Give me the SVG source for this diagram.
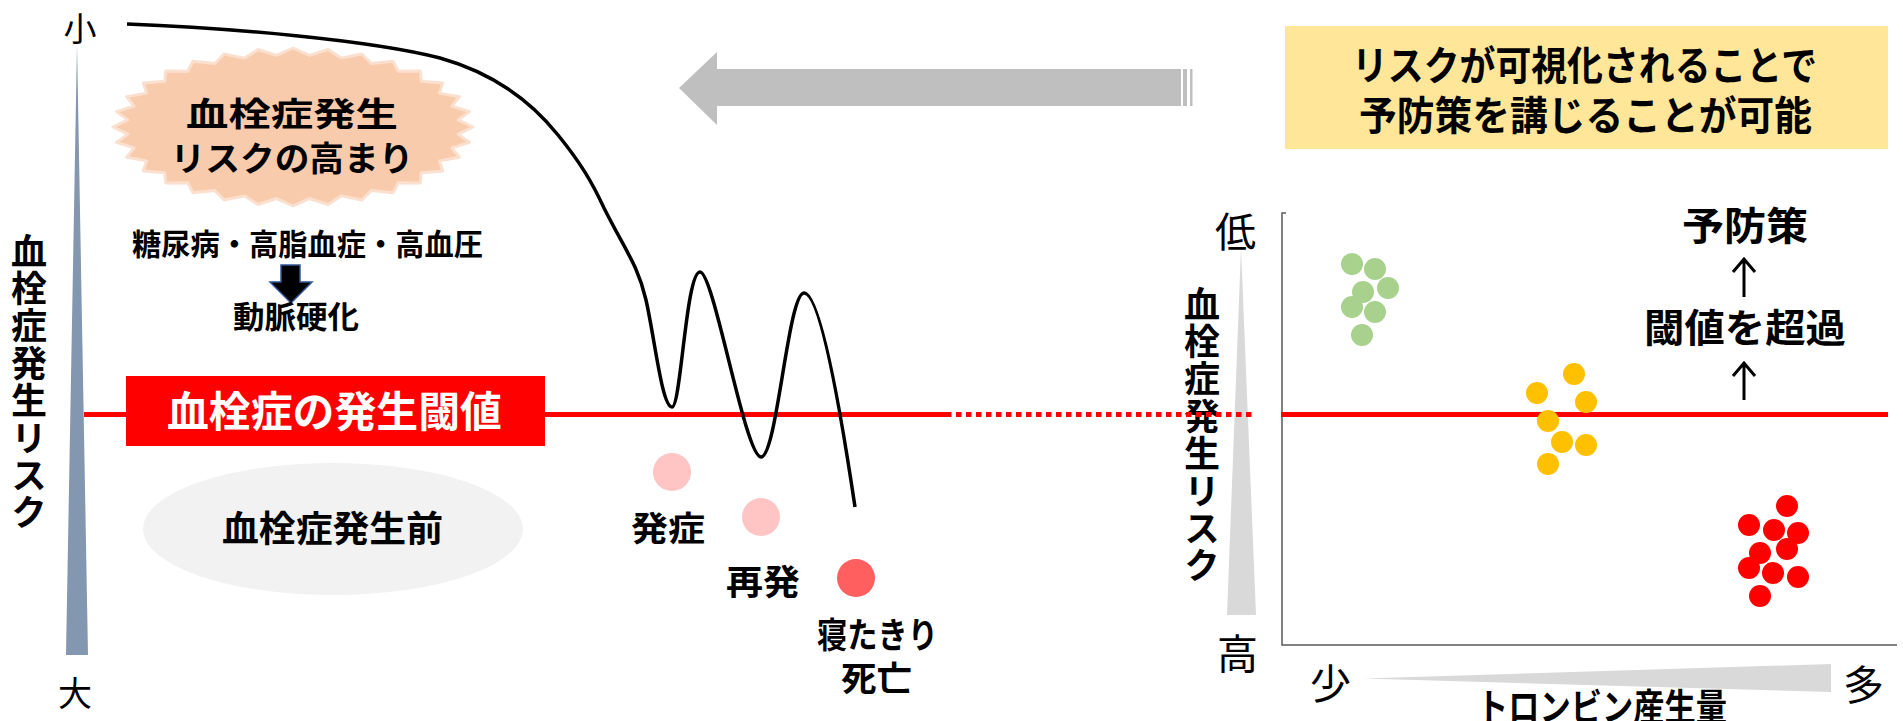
<svg xmlns="http://www.w3.org/2000/svg" width="1903" height="721" viewBox="0 0 1903 721">
<style>
.b{font-family:"Noto Sans CJK JP","Noto Sans CJK SC",sans-serif;font-weight:700;fill:#000;text-anchor:middle}
.n{font-family:"Noto Sans CJK JP","Noto Sans CJK SC",sans-serif;font-weight:400;fill:#000;text-anchor:middle}
.v{font-family:"Noto Sans CJK JP","Noto Sans CJK SC",sans-serif;font-weight:700;fill:#000;writing-mode:vertical-rl;text-anchor:start;font-size:36px;letter-spacing:1.4px}
.w{fill:#fff}
.g{fill:#A9D18E}
.o{fill:#FFC000}
.r{fill:#FF0000}
.up{fill:none;stroke:#000;stroke-width:3}
</style>
<rect width="1903" height="721" fill="#fff"/>

<g id="left-axis">
<polygon points="77,44 66,655 88,655" fill="#8497B0"/>
<text class="n" x="80" y="41" font-size="33">小</text>
<text class="n" x="75" y="706" font-size="34">大</text>
<text class="v" x="29" y="233">血栓症発生リスク</text>
</g>

<g id="risk-burst">
<polygon points="473,127 458.2,119.9 469.5,111.6 451.9,106.1 459.3,96.8 439.4,93.1 442.7,83.1 421.3,81.3 420.3,71.1 398.3,71.3 393,61.3 371.3,63.5 361.9,54 341.2,58.1 328.1,49.5 309.3,55.4 293,48 276.7,55.4 257.9,49.5 244.8,58.1 224.1,54 214.7,63.5 193,61.3 187.7,71.3 165.7,71.1 164.7,81.3 143.3,83.1 146.6,93.1 126.7,96.8 134.1,106.1 116.5,111.6 127.8,119.9 113,127 127.8,134.1 116.5,142.4 134.1,147.9 126.7,157.2 146.6,160.9 143.3,170.9 164.7,172.7 165.7,182.9 187.7,182.7 193,192.7 214.7,190.5 224.1,200 244.8,195.9 257.9,204.5 276.7,198.6 293,206 309.3,198.6 328.1,204.5 341.2,195.9 361.9,200 371.3,190.5 393,192.7 398.3,182.7 420.3,182.9 421.3,172.7 442.7,170.9 439.4,160.9 459.3,157.2 451.9,147.9 469.5,142.4 458.2,134.1" fill="#F8CBAD" stroke="#FBE0CF" stroke-width="3" stroke-linejoin="round"/>
<text class="b" x="292" y="126" font-size="33" textLength="212" lengthAdjust="spacingAndGlyphs">血栓症発生</text>
<text class="b" x="292" y="171" font-size="34" textLength="243" lengthAdjust="spacingAndGlyphs">リスクの高まり</text>
</g>

<g id="causes">
<text class="b" x="307.5" y="255" font-size="30" textLength="351" lengthAdjust="spacingAndGlyphs">糖尿病・高脂血症・高血圧</text>
<polygon points="281,265 300,265 300,282 312,282 291,303 270,282 281,282" fill="#000" stroke="#2F5597" stroke-width="1.5"/>
<text class="b" x="296" y="328" font-size="31" textLength="126" lengthAdjust="spacingAndGlyphs">動脈硬化</text>
</g>

<g id="before">
<ellipse cx="333" cy="529" rx="190" ry="66" fill="#F2F2F2"/>
<text class="b" x="332.5" y="542" font-size="36" textLength="221" lengthAdjust="spacingAndGlyphs">血栓症発生前</text>
</g>

<g id="connectors">
<line x1="84" y1="414.5" x2="946" y2="414.5" stroke="#FF0000" stroke-width="5"/>
<path d="M127,24 C230,28 370,40 440,58 C490,72 530,100 558,135 C580,162 592,182 604,208 C625,250 638,265 646,300 C655,340 662,407 672,407 C681,407 686,272 700,272 C714,272 745,457 761,457 C777,457 788,293 804,293 C822,293 845,440 855,507" fill="none" stroke="#000" stroke-width="3.5" stroke-linejoin="round"/>
<polygon points="679,88 717,52 717,69 1181,69 1181,106 717,106 717,125" fill="#BFBFBF"/>
<rect x="1183" y="69" width="4" height="37" fill="#BFBFBF"/>
<rect x="1190" y="69" width="2.5" height="37" fill="#BFBFBF"/>
</g>

<g id="threshold-label">
<rect x="126" y="376" width="419" height="70" fill="#FF0000"/>
<text class="b w" x="334.5" y="427" font-size="42" textLength="335" lengthAdjust="spacingAndGlyphs">血栓症の発生閾値</text>
</g>

<g id="events">
<circle cx="672" cy="472" r="19" fill="#FFC5C5"/>
<circle cx="761" cy="517" r="19" fill="#FFC5C5"/>
<circle cx="856" cy="578" r="19" fill="#FF5F5F"/>
<text class="b" x="668" y="541" font-size="34" textLength="74" lengthAdjust="spacingAndGlyphs">発症</text>
<text class="b" x="763" y="595" font-size="35" textLength="74" lengthAdjust="spacingAndGlyphs">再発</text>
<text class="b" x="877.5" y="648" font-size="35" textLength="121" lengthAdjust="spacingAndGlyphs">寝たきり</text>
<text class="b" x="876.5" y="691" font-size="34" textLength="71" lengthAdjust="spacingAndGlyphs">死亡</text>
</g>

<g id="message">
<rect x="1285" y="26" width="603" height="123" fill="#FFE699"/>
<text class="b" x="1584.5" y="80" font-size="40" textLength="465" lengthAdjust="spacingAndGlyphs">リスクが可視化されることで</text>
<text class="b" x="1585.5" y="130" font-size="40" textLength="453" lengthAdjust="spacingAndGlyphs">予防策を講じることが可能</text>
</g>

<g id="right-chart">
<polygon points="1241,248 1227,615 1256,615" fill="#D9D9D9"/>
<polygon points="1364,678.5 1831,664 1831,692" fill="#D9D9D9"/>
<text class="n" x="1235.5" y="247" font-size="41">低</text>
<text class="n" x="1237.5" y="669" font-size="41">高</text>
<text class="n" x="1330.5" y="699" font-size="41">少</text>
<text class="n" x="1863.5" y="700" font-size="41">多</text>
<text class="v" x="1202" y="286">血栓症発生リスク</text>
<line x1="946" y1="414.5" x2="1256" y2="414.5" stroke="#FF0000" stroke-width="5" stroke-dasharray="5.5 4.5"/>
<text class="b" x="1602" y="721" font-size="37" textLength="250" lengthAdjust="spacingAndGlyphs">トロンビン産生量</text>
<path d="M1286,213 H1282 V645 H1897" fill="none" stroke="#595959" stroke-width="1.5"/>
<line x1="1281" y1="414.5" x2="1888" y2="414.5" stroke="#FF0000" stroke-width="5"/>
</g>

<g id="green-dots">
<circle class="g" cx="1352" cy="264" r="11"/>
<circle class="g" cx="1375" cy="269" r="11"/>
<circle class="g" cx="1388" cy="288" r="11"/>
<circle class="g" cx="1363" cy="292" r="11"/>
<circle class="g" cx="1352" cy="307" r="11"/>
<circle class="g" cx="1375" cy="312" r="11"/>
<circle class="g" cx="1362" cy="335" r="11"/>
</g>

<g id="orange-dots">
<circle class="o" cx="1574" cy="374" r="11"/>
<circle class="o" cx="1537" cy="393" r="11"/>
<circle class="o" cx="1586" cy="402" r="11"/>
<circle class="o" cx="1548" cy="421" r="11"/>
<circle class="o" cx="1562" cy="442" r="11"/>
<circle class="o" cx="1586" cy="445" r="11"/>
<circle class="o" cx="1548" cy="464" r="11"/>
</g>

<g id="red-dots">
<circle class="r" cx="1787" cy="506" r="11"/>
<circle class="r" cx="1749" cy="525" r="11"/>
<circle class="r" cx="1774" cy="530" r="11"/>
<circle class="r" cx="1798" cy="533" r="11"/>
<circle class="r" cx="1787" cy="549" r="11"/>
<circle class="r" cx="1760" cy="553" r="11"/>
<circle class="r" cx="1749" cy="568" r="11"/>
<circle class="r" cx="1773" cy="573" r="11"/>
<circle class="r" cx="1798" cy="577" r="11"/>
<circle class="r" cx="1760" cy="596" r="11"/>
</g>

<g id="prevention">
<text class="b" x="1745" y="240" font-size="39" textLength="126" lengthAdjust="spacingAndGlyphs">予防策</text>
<path class="up" d="M1744,297 V259 M1733,272 L1744,259 L1755,272"/>
<text class="b" x="1745" y="342" font-size="39" textLength="202" lengthAdjust="spacingAndGlyphs">閾値を超過</text>
<path class="up" d="M1744,400 V363 M1733,376 L1744,363 L1755,376"/>
</g>
</svg>
